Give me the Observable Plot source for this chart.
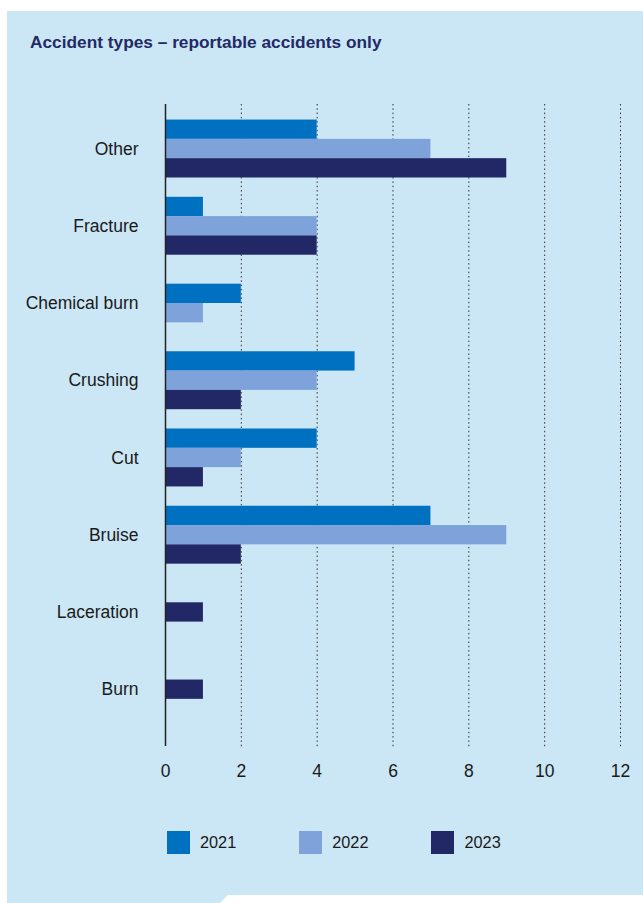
<!DOCTYPE html>
<html>
<head>
<meta charset="utf-8">
<script src="https://cdn.jsdelivr.net/npm/d3@7"></script>
<script src="https://cdn.jsdelivr.net/npm/@observablehq/plot@0.6"></script>
<style>
  html, body { margin: 0; padding: 0; background: #ffffff; }
  body { width: 643px; height: 903px; position: relative; overflow: hidden; font-family: "Liberation Sans", Arial, Helvetica, sans-serif; }
  #panel { position: absolute; left: 7px; top: 11px; width: 636px; height: 892px; background: #cbe6f4;
           clip-path: polygon(0 0, 636px 0, 636px 884px, 221px 884px, 213px 892px, 0 892px); }
  #title { position: absolute; left: 30px; top: 34px; font-size: 17.3px; line-height: 17px; font-weight: bold; color: #232a66; white-space: nowrap; }
  #chart { position: absolute; left: 0; top: 0; }
  #legend { position: absolute; left: 167px; top: 831px; display: flex; gap: 63px; align-items: center; }
  .item { display: flex; align-items: center; }
  .sw { width: 23px; height: 23px; }
  .lab { margin-left: 10px; font-size: 16.3px; color: #1a1a1a; }
</style>
</head>
<body>
<div id="panel"></div>
<div id="title">Accident types – reportable accidents only</div>
<div id="chart"></div>
<div id="legend"></div>
<script>
const categories = ["Other", "Fracture", "Chemical burn", "Crushing", "Cut", "Bruise", "Laceration", "Burn"];
const years = ["2021", "2022", "2023"];
const colors = ["#0070c0", "#7da3da", "#222865"];
const v2021 = [4, 1, 2, 5, 4, 7, 0, 0];
const v2022 = [7, 4, 1, 4, 2, 9, 0, 0];
const v2023 = [9, 4, 0, 2, 1, 2, 1, 1];
const xTicks = [0, 2, 4, 6, 8, 10, 12];

const series = [v2021, v2022, v2023];
// Each category occupies 4 bar slots; present (non-zero) bars are centred in the group.
const rows = [];
categories.forEach((c, i) => {
  const present = years.map((y, j) => ({year: y, value: series[j][i]})).filter(d => d.value > 0);
  const n = present.length;
  present.forEach((d, k) => {
    const y1 = i * 4 + 0.5 + (3 - n) / 2 + k;
    rows.push({category: c, year: d.year, value: d.value, y1, y2: y1 + 1});
  });
});

const chart = Plot.plot({
  width: 643,
  height: 800,
  marginLeft: 165,
  marginRight: 23,
  marginTop: 104,
  marginBottom: 51,
  insetTop: 5.9,
  insetBottom: 21.2,
  style: {background: "transparent", fontFamily: "'Liberation Sans', Arial, Helvetica, sans-serif", color: "#1a1a1a"},
  x: {domain: [0, 12], axis: null, label: null},
  y: {domain: [0, categories.length * 4], reverse: true, axis: null, label: null},
  color: {domain: years, range: colors},
  marks: [
    Plot.ruleX(xTicks.filter(t => t > 0), {x: d => d, stroke: "#333", strokeWidth: 1, strokeDasharray: "1.5,2.8"}),
    Plot.rect(rows, {x1: d => 0, x2: "value", y1: "y1", y2: "y2", fill: "year"}),
    Plot.ruleX([0], {stroke: "#222", strokeWidth: 1.5, insetBottom: 3}),
    Plot.axisX({ticks: xTicks, tickSize: 0, tickPadding: 15, fontSize: 17.5, label: null, tickFormat: d => String(d)}),
    Plot.axisY({ticks: categories.map((c, i) => i * 4 + 2), tickFormat: v => categories[(v - 2) / 4], tickSize: 0, tickPadding: 27, fontSize: 17.5, label: null})
  ]
});
document.getElementById("chart").appendChild(chart);

const legend = document.getElementById("legend");
years.forEach((y, j) => {
  const item = document.createElement("div");
  item.className = "item";
  const sw = document.createElement("div");
  sw.className = "sw";
  sw.style.background = colors[j];
  const lab = document.createElement("span");
  lab.className = "lab";
  lab.textContent = y;
  item.appendChild(sw);
  item.appendChild(lab);
  legend.appendChild(item);
});
</script>
</body>
</html>
